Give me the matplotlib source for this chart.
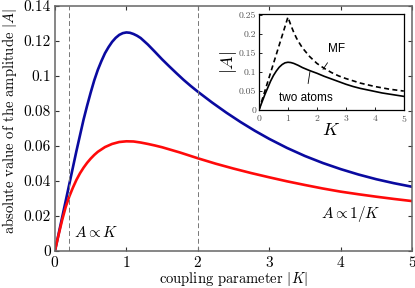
import matplotlib
matplotlib.use("Agg")
import matplotlib.pyplot as plt
from matplotlib.ticker import FuncFormatter

plt.rcParams["font.family"] = "serif"
plt.rcParams["font.serif"] = ["cmr10"]
plt.rcParams["mathtext.fontset"] = "cm"
plt.rcParams["axes.formatter.use_mathtext"] = True

# main plot: two curves
k_blue = [0, 0.05, 0.1, 0.15, 0.2, 0.25, 0.3, 0.35, 0.4, 0.45, 0.5, 0.55, 0.6, 0.65, 0.7,
          0.75, 0.8, 0.85, 0.9, 0.95, 1.0, 1.05, 1.1, 1.15, 1.2, 1.3, 1.4, 1.5, 1.6, 1.7,
          1.8, 1.9, 2.0, 2.2, 2.4, 2.6, 2.8, 3.0, 3.25, 3.5, 3.75, 4.0, 4.25, 4.5, 4.75, 5.0]
a_blue = [0, 0.0095, 0.019, 0.0285, 0.038, 0.0475, 0.057, 0.066, 0.075, 0.083, 0.0905,
          0.0975, 0.1035, 0.1085, 0.113, 0.1165, 0.1195, 0.1218, 0.1235, 0.1245, 0.1249,
          0.1247, 0.124, 0.123, 0.1217, 0.118, 0.1138, 0.1095, 0.1055, 0.1016, 0.0978,
          0.0943, 0.091, 0.0848, 0.079, 0.0736, 0.0686, 0.064, 0.0588, 0.0542, 0.0502,
          0.0467, 0.0436, 0.0409, 0.0386, 0.0366]

k_red = [0, 0.05, 0.1, 0.15, 0.2, 0.25, 0.3, 0.35, 0.4, 0.45, 0.5, 0.55, 0.6, 0.7, 0.8,
         0.9, 1.0, 1.1, 1.2, 1.3, 1.4, 1.5, 1.75, 2.0, 2.25, 2.5, 2.75, 3.0, 3.25, 3.5,
         3.75, 4.0, 4.25, 4.5, 4.75, 5.0]
a_red = [0, 0.009, 0.0175, 0.025, 0.031, 0.036, 0.0405, 0.0443, 0.0475, 0.0503, 0.0527,
         0.0548, 0.0566, 0.0593, 0.0611, 0.0622, 0.0626, 0.0625, 0.0619, 0.0611, 0.0602,
         0.0592, 0.0562, 0.0529, 0.0498, 0.047, 0.0444, 0.042, 0.0397, 0.0376, 0.0356,
         0.0338, 0.0323, 0.0309, 0.0296, 0.0284]

k_marks = [0.19, 2.0]

# inset
k_two = [0, 0.1, 0.2, 0.3, 0.4, 0.5, 0.6, 0.7, 0.8, 0.9, 1.0, 1.1, 1.2, 1.35, 1.5, 1.75,
         2.0, 2.25, 2.5, 2.75, 3.0, 3.25, 3.5, 3.75, 4.0, 4.25, 4.5, 4.75, 5.0]
a_two = [0, 0.02, 0.04, 0.058, 0.076, 0.091, 0.103, 0.113, 0.12, 0.1245, 0.126, 0.1252,
         0.123, 0.118, 0.112, 0.104, 0.097, 0.089, 0.082, 0.075, 0.068, 0.062, 0.057,
         0.053, 0.049, 0.045, 0.042, 0.039, 0.036]

k_mf = [0, 1.0, 1.1, 1.2, 1.3, 1.4, 1.5, 1.75, 2.0, 2.25, 2.5, 2.75, 3.0, 3.5, 4.0, 4.5, 5.0]
a_mf = [0, 0.245, 0.224, 0.205, 0.189, 0.176, 0.164, 0.141, 0.123, 0.11, 0.099, 0.09,
        0.083, 0.071, 0.062, 0.055, 0.05]

fmt = FuncFormatter(lambda v, p: "%g" % round(v, 3))

fig = plt.figure(figsize=(4.15, 2.88), dpi=100)
ax = fig.add_axes([0.1325, 0.1295, 0.8603, 0.8495])
ax.plot(k_blue, a_blue, color="#0a0aa0", lw=1.9)
ax.plot(k_red, a_red, color="#ff0a0a", lw=1.9)
for km in k_marks:
    ax.axvline(km, color="#777777", lw=0.7, ls=(0, (5, 3)))
ax.set_xlim(0, 5)
ax.set_ylim(0, 0.14)
ax.set_xticks([0, 1, 2, 3, 4, 5])
ax.set_yticks([0, 0.02, 0.04, 0.06, 0.08, 0.1, 0.12, 0.14])
ax.yaxis.set_major_formatter(fmt)
ax.tick_params(direction="in", top=True, right=True, length=3, width=0.8,
               color="#333333", labelsize=11, pad=3)
for s in ax.spines.values():
    s.set_color("#666666")
    s.set_linewidth(1.1)
ax.set_xlabel(r"coupling parameter $|K|$", fontsize=10.5, labelpad=0)
ax.set_ylabel(r"absolute value of the amplitude $|A|$", fontsize=10.5)
ax.yaxis.set_label_coords(-0.1, 0.53)
ax.text(0.26, 0.0103, r"$A\propto K$", fontsize=11, va="center")
ax.text(3.73, 0.021, r"$A\propto 1/K$", fontsize=11, va="center")

ins = fig.add_axes([0.624, 0.618, 0.349, 0.333])
ins.plot(k_mf, a_mf, color="black", lw=1.2, ls=(0, (3, 2)))
ins.plot(k_two, a_two, color="black", lw=1.2)
ins.set_xlim(0, 5)
ins.set_ylim(0, 0.253)
ins.set_xticks([0, 1, 2, 3, 4, 5])
ins.set_yticks([0, 0.05, 0.1, 0.15, 0.2, 0.25])
ins.yaxis.set_major_formatter(fmt)
ins.tick_params(direction="in", length=2, width=0.6, labelsize=7,
                labelcolor="#555555", pad=2)
for s in ins.spines.values():
    s.set_linewidth(0.9)
ins.set_xlabel(r"$K$", fontsize=13, labelpad=-1)
ins.set_ylabel(r"$|A|$", fontsize=13, labelpad=0)
ins.annotate("MF", xy=(2.21, 0.107), xytext=(2.68, 0.16),
             fontsize=8.5, family="Liberation Sans", ha="center", va="center",
             arrowprops=dict(arrowstyle="-", lw=0.6, color="black",
                             shrinkA=4, shrinkB=0))
ins.annotate("two atoms", xy=(1.76, 0.101), xytext=(1.62, 0.032),
             fontsize=8.5, family="Liberation Sans", ha="center", va="center",
             arrowprops=dict(arrowstyle="-", lw=0.6, color="black",
                             shrinkA=4, shrinkB=0))

fig.savefig("out.png", dpi=100)
